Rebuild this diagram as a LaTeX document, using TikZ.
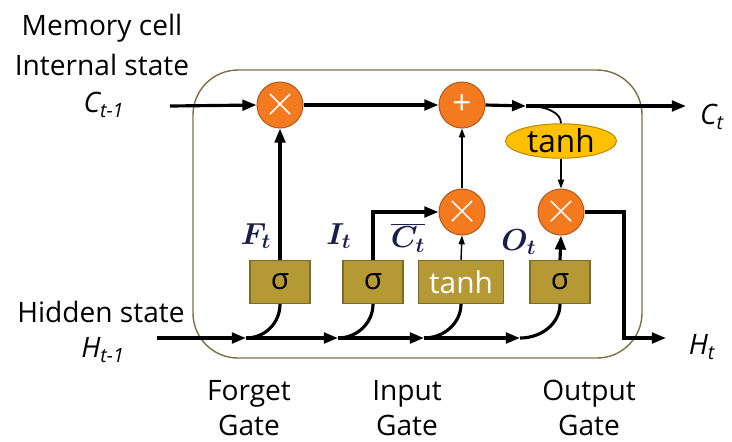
\documentclass[tikz,border=0pt]{standalone}
\usepackage{fontspec}
\usetikzlibrary{arrows.meta,shapes.geometric}
\newfontfamily\lstmfont{Open Sans}

\definecolor{gatefill}{RGB}{181,153,52}
\definecolor{gateline}{RGB}{125,105,40}
\definecolor{opfill}{RGB}{244,122,32}
\definecolor{opline}{RGB}{180,90,30}
\definecolor{squashfill}{RGB}{255,192,0}
\definecolor{squashline}{RGB}{190,140,0}
\definecolor{cellline}{RGB}{125,110,70}
\definecolor{labelnavy}{RGB}{25,30,75}

\tikzset{
  gatebox/.style={rectangle,fill=gatefill,draw=gateline,line width=0.6pt,
    minimum width=1.2cm,minimum height=0.86cm,inner sep=0pt,
    font=\lstmfont\fontsize{17}{18}\selectfont},
  opcirc/.style={circle,fill=opfill,draw=opline,line width=0.6pt,
    minimum size=0.92cm,inner sep=0pt,text=white},
  squash/.style={ellipse,fill=squashfill,draw=squashline,line width=0.6pt,
    minimum width=2.22cm,minimum height=0.68cm,inner sep=0pt,
    font=\lstmfont\fontsize{18}{18}\selectfont},
  flow/.style={line width=1.8pt,-{Triangle[length=8pt,width=6pt]}},
  thinflow/.style={line width=0.8pt,-{Triangle[length=5pt,width=3.5pt]}},
  sanslabel/.style={font=\lstmfont\fontsize{16}{22.7}\selectfont,align=center,inner sep=0pt},
  gatelabel/.style={font=\lstmfont\fontsize{16}{20}\selectfont,align=center,inner sep=0pt},
  mathlabel/.style={font=\fontsize{17}{18}\selectfont\boldmath,text=labelnavy,inner sep=0pt}
}

\begin{document}
\begin{tikzpicture}[x=0.02cm,y=-0.02cm]
  \useasboundingbox (0,0) rectangle (732,441);
  % cell boundary
  \draw[cellline,line width=0.8pt,rounded corners=0.9cm] (193,70) rectangle (642,358);

  % operators
  \node[opcirc,font=\fontsize{35}{35}\selectfont] (mulF) at (280,105) {$\times$};
  \node[opcirc,font=\lstmfont\fontsize{19}{19}\selectfont] (addC) at (462,105) {+};
  \node[opcirc,font=\fontsize{35}{35}\selectfont] (mulI) at (462,212) {$\times$};
  \node[opcirc,font=\fontsize{35}{35}\selectfont] (mulO) at (561,212) {$\times$};
  \node[squash] (tanhC) at (561,141) {tanh};

  % gates
  \node[gatebox] (sigF) at (280,282) {σ};
  \node[gatebox] (sigI) at (373,282) {σ};
  \node[gatebox,minimum width=1.7cm,text=white] (tanhI) at (461,282) {tanh};
  \node[gatebox] (sigO) at (560,282) {σ};

  % ends and junctions
  \coordinate (cin) at (170,106);
  \coordinate (cout) at (686,106);
  \coordinate (tj) at (526,106);
  \coordinate (hin) at (157,338);
  \coordinate (hout) at (666,338);
  \coordinate (hturn) at (624,338);
  \coordinate (jF) at (246,338);
  \coordinate (jI) at (338,338);
  \coordinate (jC) at (424,338);
  \coordinate (jO) at (520,338);

  % cell state line
  \draw[flow] (cin) -- (mulF.west);
  \draw[flow] (mulF.east) -- (addC.west);
  \draw[flow] (addC.east) -- (tj);
  \draw[flow] (tj) -- (cout);
  \draw[line width=1pt] (tj) .. controls +(20,0) and +(0,-11) .. (tanhC.north);

  % hidden state line
  \draw[flow] (hin) -- (jF);
  \draw[flow] (jF) -- (jI);
  \draw[flow] (jI) -- (jC);
  \draw[flow] (jC) -- (jO);
  \draw[line width=1.8pt] (jF) .. controls +(19,0) and +(0,19) .. (sigF.south);
  \draw[line width=1.8pt] (jI) .. controls +(19,0) and +(0,19) .. (sigI.south);
  \draw[line width=1.8pt] (jC) .. controls +(20,0) and +(0,19) .. (tanhI.south);
  \draw[line width=1.8pt] (jO) .. controls +(22,0) and +(0,19) .. (sigO.south);

  % gate outputs
  \draw[flow] (sigF.north) -- (mulF.south);
  \draw[flow] (sigI.north) |- (mulI.west);
  \draw[thinflow] (tanhI.north) -- (mulI.south);
  \draw[thinflow] (mulI.north) -- (addC.south);
  \draw[thinflow] (tanhC.south) -- (mulO.north);
  \draw[flow] (sigO.north) -- (mulO.south);
  \draw[flow] (mulO.east) -| (hturn) -- (hout);

  % labels
  \node[mathlabel] (lblF) at (256,236) {$F_t$};
  \node[mathlabel] (lblI) at (339,236) {$I_t$};
  \node[mathlabel] (lblC) at (408,238) {$\overline{C_t}$};
  \node[mathlabel] (lblO) at (519,242) {$O_t$};

  \node[sanslabel] (memtxt) at (102,45) {Memory cell\\Internal state};
  \node[sanslabel] (cprev) at (104,105) {\itshape C\textsubscript{t-1}};
  \node[sanslabel] (hidtxt) at (101,312) {Hidden state};
  \node[sanslabel] (hprev) at (103,350) {\itshape H\textsubscript{t-1}};
  \node[sanslabel] (cnext) at (712,117) {\itshape C\textsubscript{t}};
  \node[sanslabel] (hnext) at (702,347) {\itshape H\textsubscript{t}};

  \node[gatelabel] (fgate) at (249,408) {Forget\\Gate};
  \node[gatelabel] (igate) at (407,408) {Input\\Gate};
  \node[gatelabel] (ogate) at (589,408) {Output\\Gate};
\end{tikzpicture}
\end{document}
